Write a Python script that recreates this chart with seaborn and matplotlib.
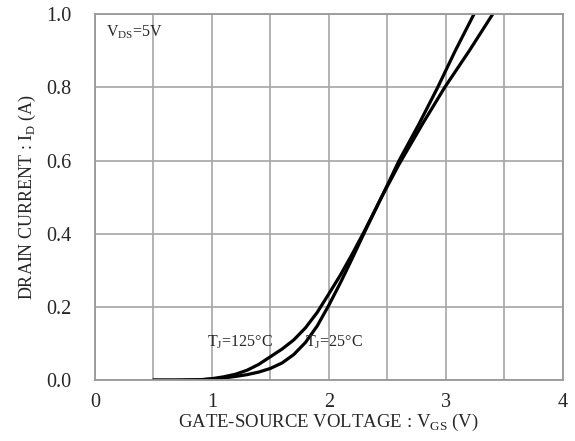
import numpy as np
import pandas as pd
import matplotlib
matplotlib.use("Agg")
import matplotlib.pyplot as plt
import seaborn as sns
from matplotlib.ticker import MultipleLocator

# (V_GS in V, I_D in A)
vgs_25 = [0.5, 0.7, 0.9, 1.0, 1.1, 1.2, 1.3, 1.4, 1.5, 1.6, 1.7, 1.8, 1.9, 2.0, 2.1, 2.2,
          2.3, 2.45, 2.6, 2.77, 2.93, 3.08, 3.24]
id_25 = [0.0, 0.0, 0.001, 0.003, 0.006, 0.010, 0.015, 0.022, 0.032, 0.047, 0.070, 0.103,
         0.148, 0.205, 0.267, 0.333, 0.401, 0.5, 0.6, 0.7, 0.8, 0.9, 1.0]
vgs_125 = [0.5, 0.7, 0.9, 1.0, 1.1, 1.2, 1.3, 1.4, 1.5, 1.6, 1.7, 1.8, 1.9, 2.0, 2.1, 2.2,
           2.3, 2.45, 2.6, 2.8, 2.99, 3.2, 3.4]
id_125 = [0.0, 0.0, 0.001, 0.004, 0.009, 0.016, 0.027, 0.043, 0.064, 0.085, 0.110, 0.143,
          0.185, 0.236, 0.288, 0.345, 0.405, 0.5, 0.59, 0.7, 0.8, 0.9, 1.0]

x_ticks = [0, 1, 2, 3, 4]
y_ticks = [0.0, 0.2, 0.4, 0.6, 0.8, 1.0]

df = pd.concat([
    pd.DataFrame({"vgs": vgs_25, "id": id_25, "tj": "25"}),
    pd.DataFrame({"vgs": vgs_125, "id": id_125, "tj": "125"}),
])

sns.set_style("white")
plt.rcParams["font.family"] = ["Liberation Serif", "DejaVu Serif"]
plt.rcParams["mathtext.fontset"] = "custom"
plt.rcParams["mathtext.rm"] = "Liberation Serif"

fig = plt.figure(figsize=(5.75, 4.41), dpi=100)
ax = fig.add_axes([0.165, 0.138, 0.814, 0.83])

sns.lineplot(data=df, x="vgs", y="id", units="tj", estimator=None, sort=False,
             color="black", linewidth=2.3, ax=ax, legend=False)

ax.set_xlim(0, 4)
ax.set_ylim(0, 1.0)
ax.set_xticks(x_ticks)
ax.xaxis.set_minor_locator(MultipleLocator(0.5))
ax.set_yticks(y_ticks)
ax.set_yticklabels([f"{v:.1f}" for v in y_ticks])
ax.grid(True, which="both", color="#a6a6a6", linewidth=1.2)
ax.set_axisbelow(True)
ax.tick_params(axis="both", which="both", length=0, labelsize=14.5)
ax.tick_params(axis="y", pad=17)
ax.tick_params(axis="x", pad=9)
for s in ax.spines.values():
    s.set_color("#999999")
    s.set_linewidth(1.3)

ax.set_xlabel(r"GATE-SOURCE VOLTAGE : V$_\mathregular{GS}$ (V)", fontsize=13.5, labelpad=0)
ax.set_ylabel(r"DRAIN CURRENT : I$_\mathregular{D}$ (A)", fontsize=13, labelpad=6)

ax.text(0.095, 0.951, r"V$_\mathregular{DS}$=5V", fontsize=11.5, va="center", ha="left")
ax.text(0.96, 0.104, r"T$_\mathregular{J}$=125°C", fontsize=11.5, va="center", ha="left")
ax.text(1.795, 0.104, r"T$_\mathregular{J}$=25°C", fontsize=11.5, va="center", ha="left")

fig.savefig("out.png", dpi=100)
